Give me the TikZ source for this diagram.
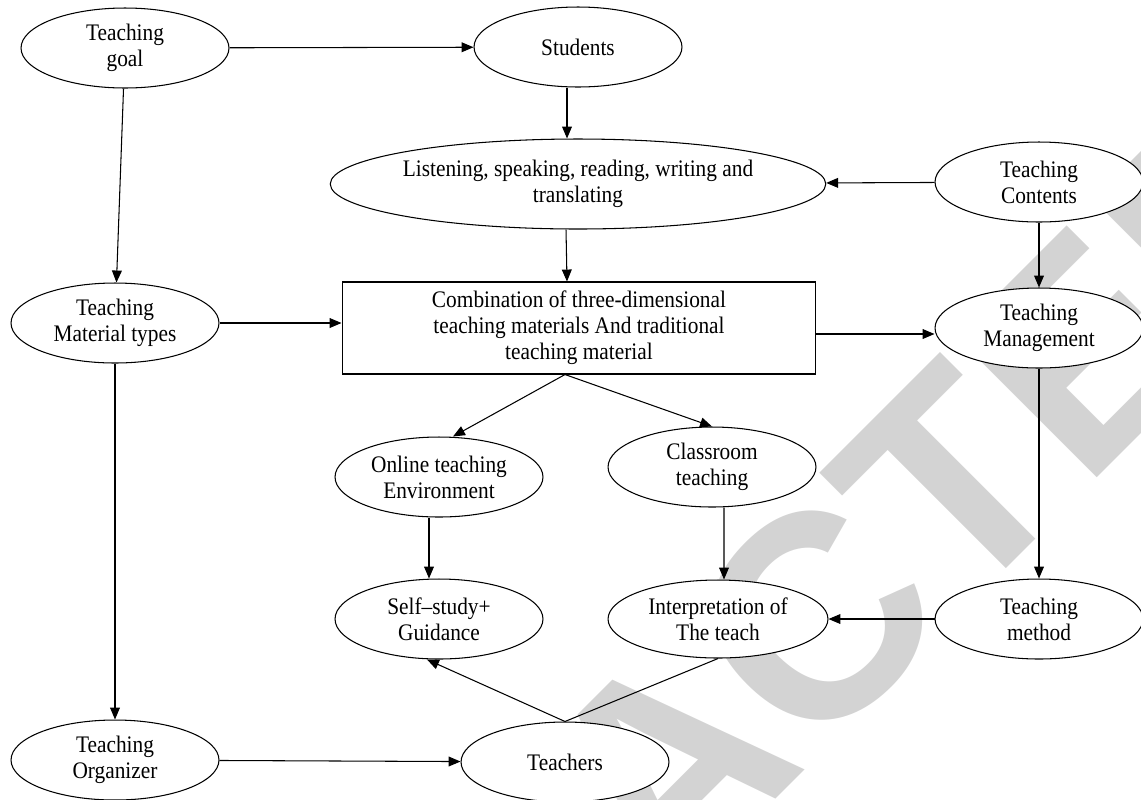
\documentclass[tikz,border=0pt]{standalone}
\usepackage{fontspec}
\setmainfont{Liberation Serif}[FakeStretch=0.9]
\newfontfamily\stampfont{Liberation Sans}
\usetikzlibrary{shapes.geometric,arrows.meta}
\definecolor{StampGray}{RGB}{211,211,211}

\begin{document}
\begin{tikzpicture}[x=0.02cm, y=-0.02cm,
        bubble/.style={draw, fill=white, ellipse, line width=0.6pt, inner sep=0pt, minimum width=4.16cm, minimum height=1.6cm, align=center, font=\fontsize{13.5}{14.9}\selectfont},
        box/.style={draw, fill=white, rectangle, line width=0.6pt, inner sep=0pt, align=center, font=\fontsize{13.5}{14.9}\selectfont},
        arr/.style={-{Triangle[length=6.8pt, width=5.6pt]}, line width=0.6pt},
        link/.style={line width=0.6pt}]
    \useasboundingbox (0,0) rectangle (1141,799);
    \clip (0,0) rectangle (1141,799);

    % Watermark behind everything
    \node[rotate=45, text=StampGray, inner sep=0pt, font=\stampfont\bfseries\fontsize{165}{165}\selectfont] (stamp) at (666,768) {RETRACTED};

    % Top row
    \node[bubble] (goal) at (125,48) {Teaching\\goal};
    \node[bubble] (stud) at (578,47) {Students};
    \node[bubble, minimum width=9.68cm, minimum height=1.8cm] (listen) at (578,184) {Listening, speaking, reading, writing and\\translating};
    \node[bubble] (cont) at (1039,182) {Teaching\\Contents};

    % Middle row
    \node[bubble] (mat) at (115,323) {Teaching\\Material types};
    \node[box, minimum width=9.48cm, minimum height=1.84cm] (comb) at (579,328) {Combination of three-dimensional\\teaching materials And traditional\\teaching material};
    \node[bubble] (mgmt) at (1039,328) {Teaching\\Management};

    % Teaching forms
    \node[bubble] (online) at (439,477) {Online teaching\\Environment};
    \node[bubble] (class) at (712,467) {Classroom\\teaching};
    \node[bubble] (self) at (439,619) {Self--study+\\Guidance};
    \node[bubble, minimum width=4.4cm, minimum height=1.56cm] (interp) at (718,619) {Interpretation of\\The teach};
    \node[bubble] (method) at (1039,619) {Teaching\\method};

    % Bottom row
    \node[bubble] (org) at (115,760) {Teaching\\Organizer};
    \node[bubble] (teach) at (565,762) {Teachers};

    % Arrows
    \draw[arr] (goal) -- (stud);
    \draw[arr] (goal) -- (mat);
    \draw[arr] ([xshift=-0.22cm]stud.south) -- ([xshift=-0.22cm]listen.north);
    \draw[arr] ([xshift=-0.24cm]listen.south) -- ([xshift=-0.24cm]comb.north);
    \draw[arr] (cont) -- (listen);
    \draw[arr] (mat.east) -- (mat.east -| comb.west);
    \draw[arr] ([yshift=-0.12cm]comb.east) -- ([yshift=-0.12cm]mgmt.west);
    \draw[arr] (cont) -- (mgmt);
    \draw[arr] (mgmt) -- (method);
    \draw[arr] (mat) -- (org);
    \draw[arr] (org) -- (teach);
    \draw[arr] ([xshift=-0.28cm]comb.south) -- ([xshift=0.28cm]online.north);
    \draw[arr] ([xshift=-0.28cm]comb.south) -- (class.north);
    \draw[arr] ([xshift=-0.2cm]online.south) -- ([xshift=-0.2cm]self.north);
    \draw[arr] ([xshift=0.24cm]class.south) -- ([xshift=0.12cm]interp.north);
    \draw[arr] (method) -- (interp);
    \draw[arr] (teach.north) -- ([xshift=-0.24cm]self.south);
    \draw[link] (interp.south) -- (teach.north);
\end{tikzpicture}
\end{document}
